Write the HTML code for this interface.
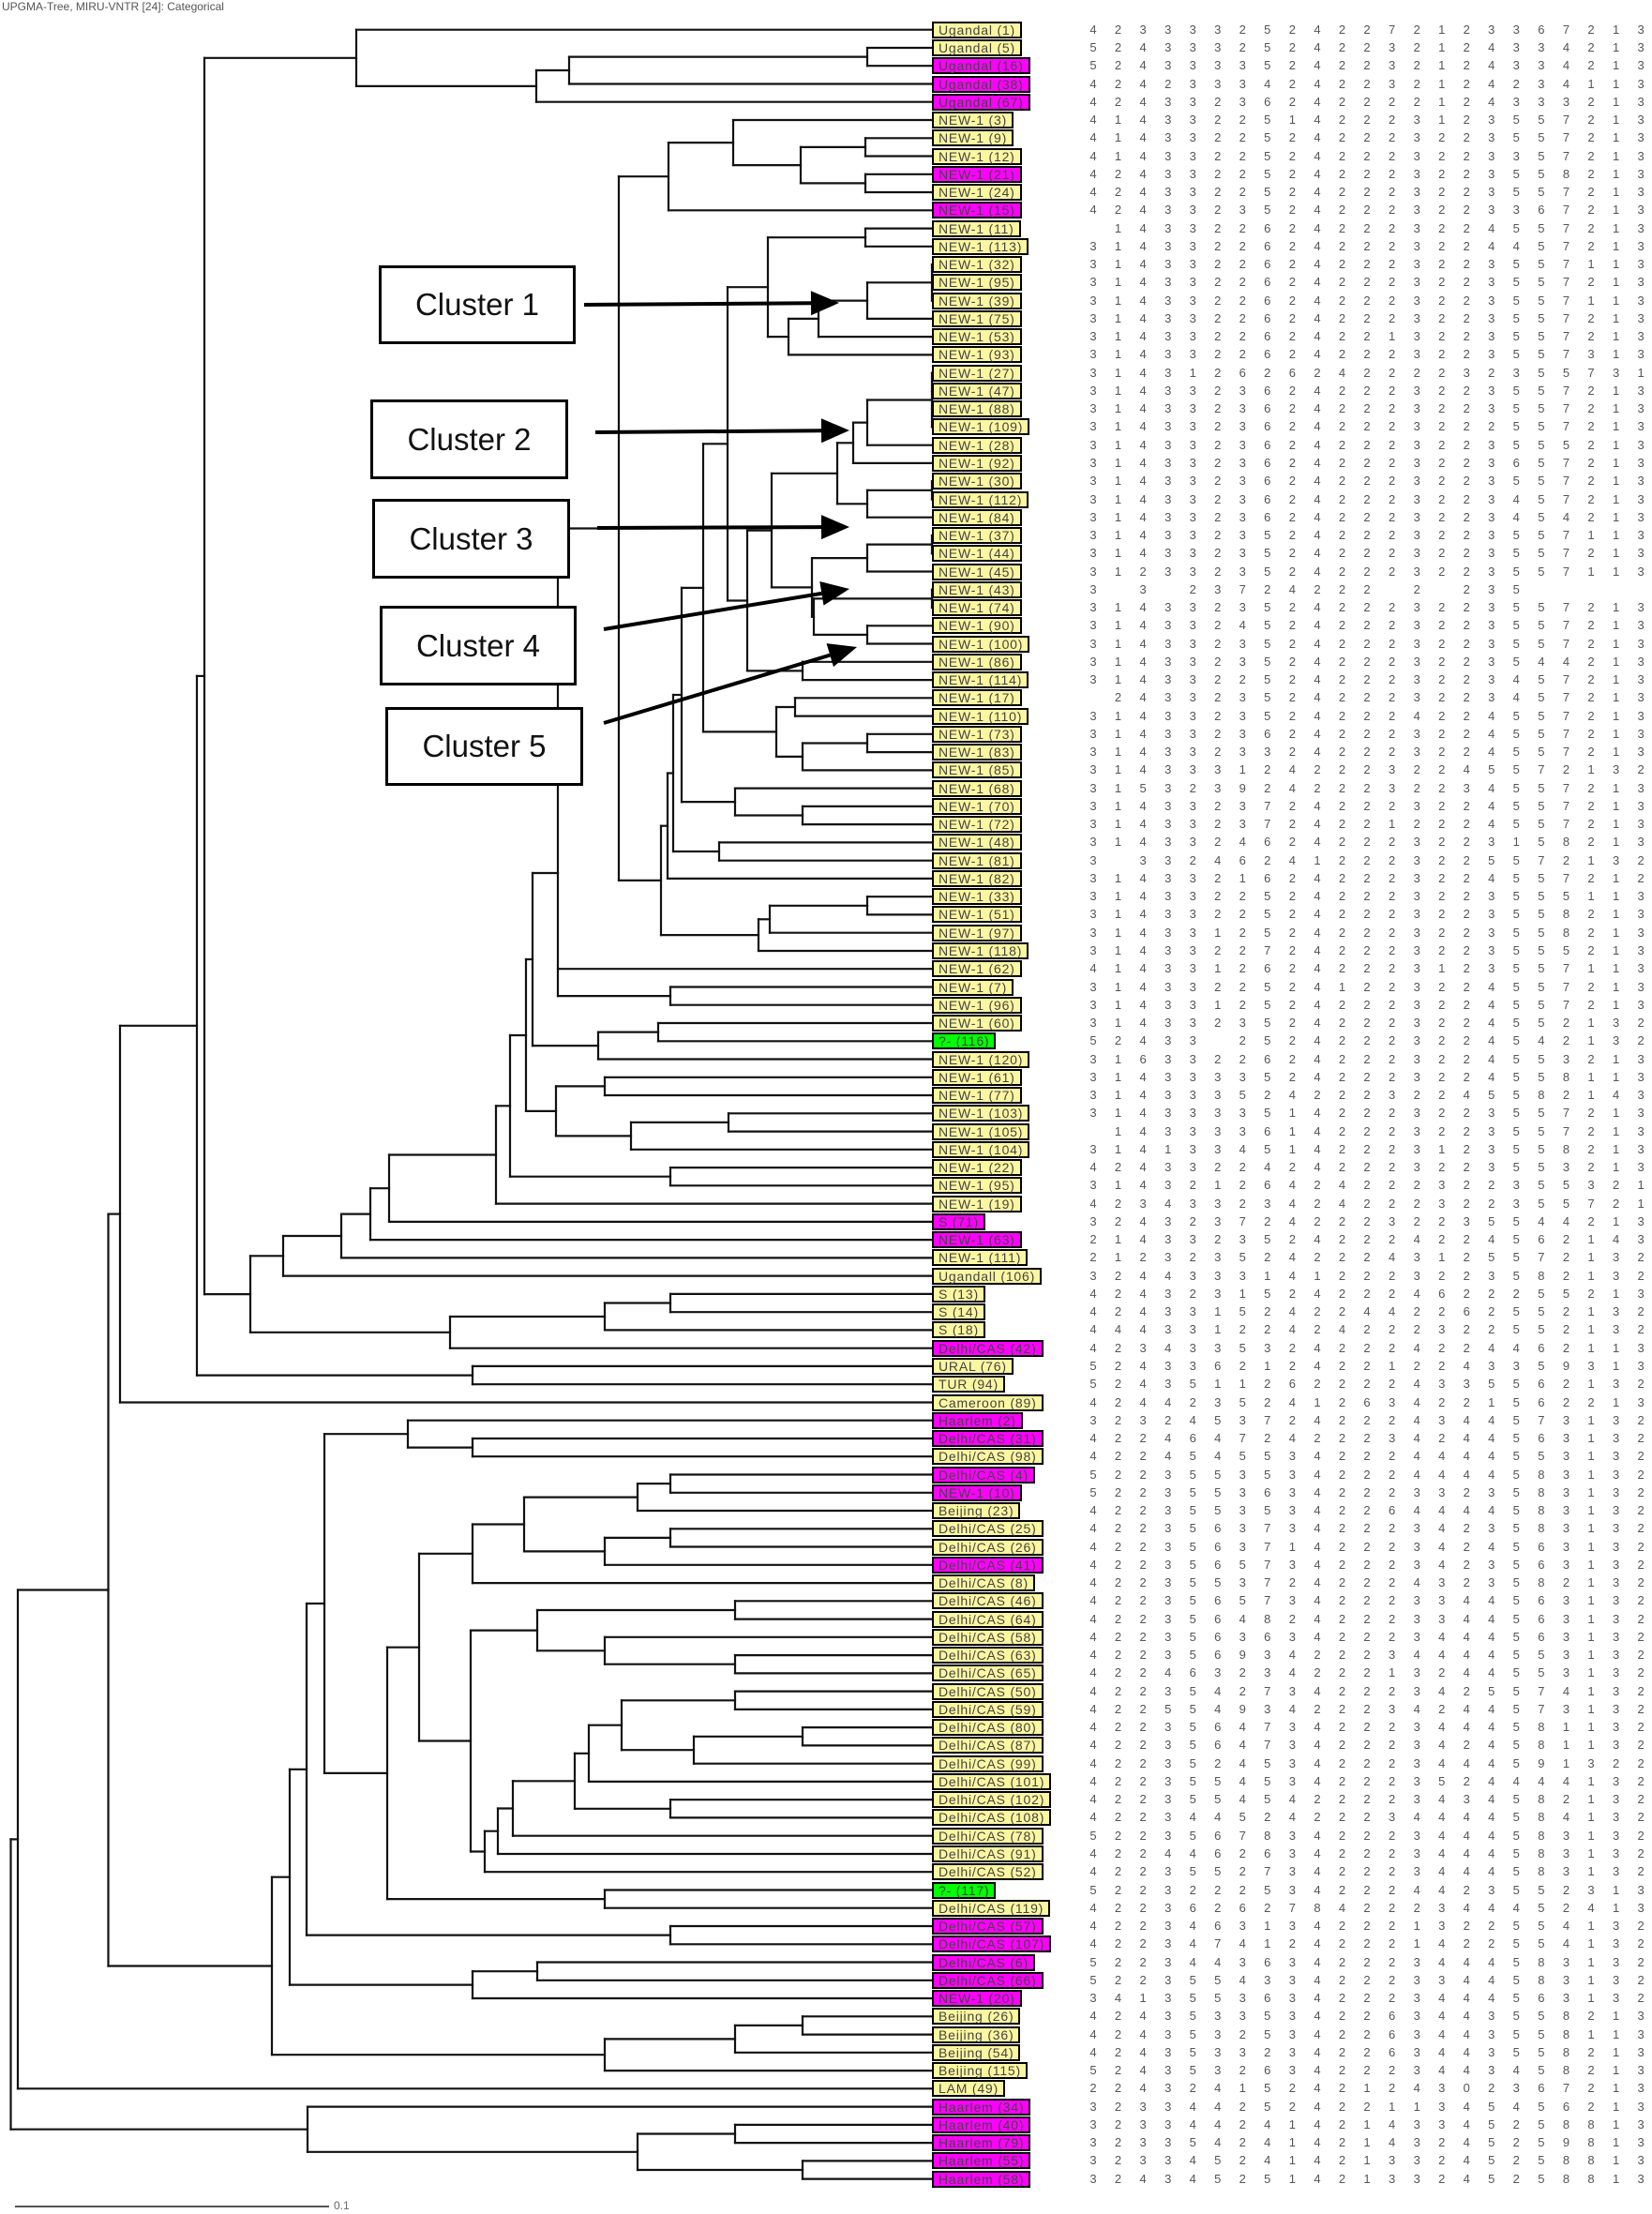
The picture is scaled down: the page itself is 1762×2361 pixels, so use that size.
<!DOCTYPE html>
<html><head><meta charset="utf-8">
<style>
html,body{margin:0;padding:0;background:#fff;}
#wrap{position:relative;width:1762px;height:2361px;overflow:hidden;background:#fff;font-family:"Liberation Sans",sans-serif;}
.lb{position:absolute;left:994px;height:14px;line-height:14px;border:2px solid #000;padding:0 5px;font-size:14px;letter-spacing:0.8px;color:#444;white-space:nowrap;box-sizing:content-box;}
.y{background:#fbf6a0;}.m{background:#ff00ff;}.g{background:#00ff00;}
.num{position:absolute;font-size:13px;color:#555;width:14px;text-align:center;line-height:14px;}
.cl{position:absolute;border:3px solid #000;background:#fff;box-sizing:border-box;font-size:33px;color:#111;display:flex;align-items:center;justify-content:center;}
</style></head><body>
<div id="wrap">
<svg id="sv" width="1762" height="2361" style="position:absolute;left:0;top:0"></svg>
<div style="position:absolute;left:2px;top:0px;font-size:12px;color:#555;">UPGMA-Tree, MIRU-VNTR [24]: Categorical</div>
<div style="position:absolute;left:356px;top:2345px;font-size:12px;color:#666;">0.1</div>
</div>
<script>
var labels=[
["Ugandal (1)","y"],["Ugandal (5)","y"],["Ugandal (16)","m"],["Ugandal (38)","m"],["Ugandal (67)","m"],
["NEW-1 (3)","y"],["NEW-1 (9)","y"],["NEW-1 (12)","y"],["NEW-1 (21)","m"],["NEW-1 (24)","y"],["NEW-1 (15)","m"],
["NEW-1 (11)","y"],["NEW-1 (113)","y"],["NEW-1 (32)","y"],["NEW-1 (95)","y"],["NEW-1 (39)","y"],["NEW-1 (75)","y"],
["NEW-1 (53)","y"],["NEW-1 (93)","y"],["NEW-1 (27)","y"],["NEW-1 (47)","y"],["NEW-1 (88)","y"],["NEW-1 (109)","y"],
["NEW-1 (28)","y"],["NEW-1 (92)","y"],["NEW-1 (30)","y"],["NEW-1 (112)","y"],["NEW-1 (84)","y"],["NEW-1 (37)","y"],
["NEW-1 (44)","y"],["NEW-1 (45)","y"],["NEW-1 (43)","y"],["NEW-1 (74)","y"],["NEW-1 (90)","y"],["NEW-1 (100)","y"],
["NEW-1 (86)","y"],["NEW-1 (114)","y"],["NEW-1 (17)","y"],["NEW-1 (110)","y"],["NEW-1 (73)","y"],["NEW-1 (83)","y"],
["NEW-1 (85)","y"],["NEW-1 (68)","y"],["NEW-1 (70)","y"],["NEW-1 (72)","y"],["NEW-1 (48)","y"],["NEW-1 (81)","y"],
["NEW-1 (82)","y"],["NEW-1 (33)","y"],["NEW-1 (51)","y"],["NEW-1 (97)","y"],["NEW-1 (118)","y"],["NEW-1 (62)","y"],
["NEW-1 (7)","y"],["NEW-1 (96)","y"],["NEW-1 (60)","y"],["?- (116)","g"],["NEW-1 (120)","y"],["NEW-1 (61)","y"],
["NEW-1 (77)","y"],["NEW-1 (103)","y"],["NEW-1 (105)","y"],["NEW-1 (104)","y"],["NEW-1 (22)","y"],["NEW-1 (95)","y"],
["NEW-1 (19)","y"],["S (71)","m"],["NEW-1 (63)","m"],["NEW-1 (111)","y"],["Ugandall (106)","y"],["S (13)","y"],
["S (14)","y"],["S (18)","y"],["Delhi/CAS (42)","m"],["URAL (76)","y"],["TUR (94)","y"],["Cameroon (89)","y"],
["Haarlem (2)","m"],["Delhi/CAS (31)","m"],["Delhi/CAS (98)","y"],["Delhi/CAS (4)","m"],["NEW-1 (10)","m"],["Beijing (23)","y"],
["Delhi/CAS (25)","y"],["Delhi/CAS (26)","y"],["Delhi/CAS (41)","m"],["Delhi/CAS (8)","y"],["Delhi/CAS (46)","y"],["Delhi/CAS (64)","y"],
["Delhi/CAS (58)","y"],["Delhi/CAS (63)","y"],["Delhi/CAS (65)","y"],["Delhi/CAS (50)","y"],["Delhi/CAS (59)","y"],["Delhi/CAS (80)","y"],
["Delhi/CAS (87)","y"],["Delhi/CAS (99)","y"],["Delhi/CAS (101)","y"],["Delhi/CAS (102)","y"],["Delhi/CAS (108)","y"],["Delhi/CAS (78)","y"],
["Delhi/CAS (91)","y"],["Delhi/CAS (52)","y"],["?- (117)","g"],["Delhi/CAS (119)","y"],["Delhi/CAS (57)","m"],["Delhi/CAS (107)","m"],
["Delhi/CAS (6)","m"],["Delhi/CAS (66)","m"],["NEW-1 (20)","m"],["Beijing (26)","y"],["Beijing (36)","y"],["Beijing (54)","y"],
["Beijing (115)","y"],["LAM (49)","y"],["Haarlem (34)","m"],["Haarlem (40)","m"],["Haarlem (79)","m"],["Haarlem (55)","m"],["Haarlem (58)","m"]];
var data=[
"4 2 3 3 3 3 2 5 2 4 2 2 7 2 1 2 3 3 6 7 2 1 3 3","5 2 4 3 3 3 2 5 2 4 2 2 3 2 1 2 4 3 3 4 2 1 3 2","5 2 4 3 3 3 3 5 2 4 2 2 3 2 1 2 4 3 3 4 2 1 3 2",
"4 2 4 2 3 3 3 4 2 4 2 2 3 2 1 2 4 2 3 4 1 1 3 2","4 2 4 3 3 2 3 6 2 4 2 2 2 2 1 2 4 3 3 3 2 1 3 2","4 1 4 3 3 2 2 5 1 4 2 2 2 3 1 2 3 5 5 7 2 1 3 2",
"4 1 4 3 3 2 2 5 2 4 2 2 2 3 2 2 3 5 5 7 2 1 3 2","4 1 4 3 3 2 2 5 2 4 2 2 2 3 2 2 3 3 5 7 2 1 3 2","4 2 4 3 3 2 2 5 2 4 2 2 2 3 2 2 3 5 5 8 2 1 3 2",
"4 2 4 3 3 2 2 5 2 4 2 2 2 3 2 2 3 5 5 7 2 1 3 2","4 2 4 3 3 2 3 5 2 4 2 2 2 3 2 2 3 3 6 7 2 1 3 2","_ 1 4 3 3 2 2 6 2 4 2 2 2 3 2 2 4 5 5 7 2 1 3 2",
"3 1 4 3 3 2 2 6 2 4 2 2 2 3 2 2 4 4 5 7 2 1 3 2","3 1 4 3 3 2 2 6 2 4 2 2 2 3 2 2 3 5 5 7 1 1 3 2","3 1 4 3 3 2 2 6 2 4 2 2 2 3 2 2 3 5 5 7 2 1 3 2",
"3 1 4 3 3 2 2 6 2 4 2 2 2 3 2 2 3 5 5 7 1 1 3 2","3 1 4 3 3 2 2 6 2 4 2 2 2 3 2 2 3 5 5 7 2 1 3 2","3 1 4 3 3 2 2 6 2 4 2 2 1 3 2 2 3 5 5 7 2 1 3 2",
"3 1 4 3 3 2 2 6 2 4 2 2 2 3 2 2 3 5 5 7 3 1 3 2","3 1 4 3 1 2 6 2 6 2 4 2 2 2 2 3 2 3 5 5 7 3 1 3","3 1 4 3 3 2 3 6 2 4 2 2 2 3 2 2 3 5 5 7 2 1 3 2",
"3 1 4 3 3 2 3 6 2 4 2 2 2 3 2 2 3 5 5 7 2 1 3 2","3 1 4 3 3 2 3 6 2 4 2 2 2 3 2 2 2 5 5 7 2 1 3 2","3 1 4 3 3 2 3 6 2 4 2 2 2 3 2 2 3 5 5 5 2 1 3 2",
"3 1 4 3 3 2 3 6 2 4 2 2 2 3 2 2 3 6 5 7 2 1 3 2","3 1 4 3 3 2 3 6 2 4 2 2 2 3 2 2 3 5 5 7 2 1 3 2","3 1 4 3 3 2 3 6 2 4 2 2 2 3 2 2 3 4 5 7 2 1 3 2",
"3 1 4 3 3 2 3 6 2 4 2 2 2 3 2 2 3 4 5 4 2 1 3 2","3 1 4 3 3 2 3 5 2 4 2 2 2 3 2 2 3 5 5 7 1 1 3 2","3 1 4 3 3 2 3 5 2 4 2 2 2 3 2 2 3 5 5 7 2 1 3 2",
"3 1 2 3 3 2 3 5 2 4 2 2 2 3 2 2 3 5 5 7 1 1 3 2","3 _ 3 _ 2 3 7 2 4 2 2 2 _ 2 _ 2 3 5 _ _ _ _ _ _","3 1 4 3 3 2 3 5 2 4 2 2 2 3 2 2 3 5 5 7 2 1 3 2",
"3 1 4 3 3 2 4 5 2 4 2 2 2 3 2 2 3 5 5 7 2 1 3 2","3 1 4 3 3 2 3 5 2 4 2 2 2 3 2 2 3 5 5 7 2 1 3 2","3 1 4 3 3 2 3 5 2 4 2 2 2 3 2 2 3 5 4 4 2 1 3 2",
"3 1 4 3 3 2 2 5 2 4 2 2 2 3 2 2 3 4 5 7 2 1 3 2","_ 2 4 3 3 2 3 5 2 4 2 2 2 3 2 2 3 4 5 7 2 1 3 2","3 1 4 3 3 2 3 5 2 4 2 2 2 4 2 2 4 5 5 7 2 1 3 2",
"3 1 4 3 3 2 3 6 2 4 2 2 2 3 2 2 4 5 5 7 2 1 3 2","3 1 4 3 3 2 3 3 2 4 2 2 2 3 2 2 4 5 5 7 2 1 3 2","3 1 4 3 3 3 1 2 4 2 2 2 3 2 2 4 5 5 7 2 1 3 2 2",
"3 1 5 3 2 3 9 2 4 2 2 2 3 2 2 3 4 5 5 7 2 1 3 2","3 1 4 3 3 2 3 7 2 4 2 2 2 3 2 2 4 5 5 7 2 1 3 2","3 1 4 3 3 2 3 7 2 4 2 2 1 2 2 2 4 5 5 7 2 1 3 2",
"3 1 4 3 3 2 4 6 2 4 2 2 2 3 2 2 3 1 5 8 2 1 3 2","3 _ 3 3 2 4 6 2 4 1 2 2 2 3 2 2 5 5 7 2 1 3 2 2","3 1 4 3 3 2 1 6 2 4 2 2 2 3 2 2 4 5 5 7 2 1 2 2",
"3 1 4 3 3 2 2 5 2 4 2 2 2 3 2 2 3 5 5 5 1 1 3 2","3 1 4 3 3 2 2 5 2 4 2 2 2 3 2 2 3 5 5 8 2 1 3 2","3 1 4 3 3 1 2 5 2 4 2 2 2 3 2 2 3 5 5 8 2 1 3 2",
"3 1 4 3 3 2 2 7 2 4 2 2 2 3 2 2 3 5 5 5 2 1 3 2","4 1 4 3 3 1 2 6 2 4 2 2 2 3 1 2 3 5 5 7 1 1 3 2","3 1 4 3 3 2 2 5 2 4 1 2 2 3 2 2 4 5 5 7 2 1 3 2",
"3 1 4 3 3 1 2 5 2 4 2 2 2 3 2 2 4 5 5 7 2 1 3 2","3 1 4 3 3 2 3 5 2 4 2 2 2 3 2 2 4 5 5 2 1 3 2 2","5 2 4 3 3 _ 2 5 2 4 2 2 2 3 2 2 4 5 4 2 1 3 2 2",
"3 1 6 3 3 2 2 6 2 4 2 2 2 3 2 2 4 5 5 3 2 1 3 2","3 1 4 3 3 3 3 5 2 4 2 2 2 3 2 2 4 5 5 8 1 1 3 2","3 1 4 3 3 3 5 2 4 2 2 2 3 2 2 4 5 5 8 2 1 4 3 2",
"3 1 4 3 3 3 3 5 1 4 2 2 2 3 2 2 3 5 5 7 2 1 3 2","_ 1 4 3 3 3 3 6 1 4 2 2 2 3 2 2 3 5 5 7 2 1 3 2","3 1 4 1 3 3 4 5 1 4 2 2 2 3 1 2 3 5 5 8 2 1 3 2",
"4 2 4 3 3 2 2 4 2 4 2 2 2 3 2 2 3 5 5 3 2 1 3 2","3 1 4 3 2 1 2 6 4 2 4 2 2 2 3 2 2 3 5 5 3 2 1 3","4 2 3 4 3 3 2 3 4 2 4 2 2 2 3 2 2 3 5 5 7 2 1 3",
"3 2 4 3 2 3 7 2 4 2 2 2 3 2 2 3 5 5 4 4 2 1 3 2","2 1 4 3 3 2 3 5 2 4 2 2 2 4 2 2 4 5 6 2 1 4 3 2","2 1 2 3 2 3 5 2 4 2 2 2 4 3 1 2 5 5 7 2 1 3 2 2",
"3 2 4 4 3 3 3 1 4 1 2 2 2 3 2 2 3 5 8 2 1 3 2 2","4 2 4 3 2 3 1 5 2 4 2 2 2 4 6 2 2 2 5 5 2 1 3 2","4 2 4 3 3 1 5 2 4 2 2 4 4 2 2 6 2 5 5 2 1 3 2 2",
"4 4 4 3 3 1 2 2 4 2 4 2 2 2 3 2 2 5 5 2 1 3 2 2","4 2 3 4 3 3 5 3 2 4 2 2 2 4 2 2 4 4 6 2 1 1 3 2","5 2 4 3 3 6 2 1 2 4 2 2 1 2 2 4 3 3 5 9 3 1 3 2",
"5 2 4 3 5 1 1 2 6 2 2 2 2 4 3 3 5 5 6 2 1 3 2 2","4 2 4 4 2 3 5 2 4 1 2 6 3 4 2 2 1 5 6 2 2 1 3 2","3 2 3 2 4 5 3 7 2 4 2 2 2 4 3 4 4 5 7 3 1 3 2 2",
"4 2 2 4 6 4 7 2 4 2 2 2 3 4 2 4 4 5 6 3 1 3 2 2","4 2 2 4 5 4 5 5 3 4 2 2 2 4 4 4 4 5 5 3 1 3 2 2","5 2 2 3 5 5 3 5 3 4 2 2 2 4 4 4 4 5 8 3 1 3 2 2",
"5 2 2 3 5 5 3 6 3 4 2 2 2 3 3 2 3 5 8 3 1 3 2 2","4 2 2 3 5 5 3 5 3 4 2 2 6 4 4 4 4 5 8 3 1 3 2 2","4 2 2 3 5 6 3 7 3 4 2 2 2 3 4 2 3 5 8 3 1 3 2 2",
"4 2 2 3 5 6 3 7 1 4 2 2 2 3 4 2 4 5 6 3 1 3 2 2","4 2 2 3 5 6 5 7 3 4 2 2 2 3 4 2 3 5 6 3 1 3 2 2","4 2 2 3 5 5 3 7 2 4 2 2 2 4 3 2 3 5 8 2 1 3 2 2",
"4 2 2 3 5 6 5 7 3 4 2 2 2 3 3 4 4 5 6 3 1 3 2 2","4 2 2 3 5 6 4 8 2 4 2 2 2 3 3 4 4 5 6 3 1 3 2 2","4 2 2 3 5 6 3 6 3 4 2 2 2 3 4 4 4 5 6 3 1 3 2 2",
"4 2 2 3 5 6 9 3 4 2 2 2 3 4 4 4 4 5 5 3 1 3 2 2","4 2 2 4 6 3 2 3 4 2 2 2 1 3 2 4 4 5 5 3 1 3 2 2","4 2 2 3 5 4 2 7 3 4 2 2 2 3 4 2 5 5 7 4 1 3 2 2",
"4 2 2 5 5 4 9 3 4 2 2 2 3 4 2 4 4 5 7 3 1 3 2 2","4 2 2 3 5 6 4 7 3 4 2 2 2 3 4 4 4 5 8 1 1 3 2 2","4 2 2 3 5 6 4 7 3 4 2 2 2 3 4 2 4 5 8 1 1 3 2 2",
"4 2 2 3 5 2 4 5 3 4 2 2 2 3 4 4 4 5 9 1 3 2 2 2","4 2 2 3 5 5 4 5 3 4 2 2 2 3 5 2 4 4 4 4 1 3 2 2","4 2 2 3 5 5 4 5 4 2 2 2 2 3 4 3 4 5 8 2 1 3 2 2",
"4 2 2 3 4 4 5 2 4 2 2 2 3 4 4 4 4 5 8 4 1 3 2 2","5 2 2 3 5 6 7 8 3 4 2 2 2 3 4 4 4 5 8 3 1 3 2 2","4 2 2 4 4 6 2 6 3 4 2 2 2 3 4 4 4 5 8 3 1 3 2 2",
"4 2 2 3 5 5 2 7 3 4 2 2 2 3 4 4 4 5 8 3 1 3 2 2","5 2 2 3 2 2 2 5 3 4 2 2 2 4 4 2 3 5 5 2 3 1 3 2","4 2 2 3 6 2 6 2 7 8 4 2 2 2 3 4 4 4 5 2 4 1 3 2",
"4 2 2 3 4 6 3 1 3 4 2 2 2 1 3 2 2 5 5 4 1 3 2 2","4 2 2 3 4 7 4 1 2 4 2 2 2 1 4 2 2 5 5 4 1 3 2 2","5 2 2 3 4 4 3 6 3 4 2 2 2 3 4 4 4 5 8 3 1 3 2 2",
"5 2 2 3 5 5 4 3 3 4 2 2 2 3 3 4 4 5 8 3 1 3 2 2","3 4 1 3 5 5 3 6 3 4 2 2 2 3 4 4 4 5 6 3 1 3 2 2","4 2 4 3 5 3 3 5 3 4 2 2 6 3 4 4 3 5 5 8 2 1 3 2",
"4 2 4 3 5 3 2 5 3 4 2 2 6 3 4 4 3 5 5 8 1 1 3 2","4 2 4 3 5 3 3 2 3 4 2 2 6 3 4 4 3 5 5 8 2 1 3 2","5 2 4 3 5 3 2 6 3 4 2 2 2 3 4 4 3 4 5 8 2 1 3 2",
"2 2 4 3 2 4 1 5 2 4 2 1 2 4 3 0 2 3 6 7 2 1 3 2","3 2 3 3 4 4 2 5 2 4 2 2 1 1 3 4 5 4 5 6 2 1 3 2","3 2 3 3 4 4 2 4 1 4 2 1 4 3 3 4 5 2 5 8 8 1 3 2",
"3 2 3 3 5 4 2 4 1 4 2 1 4 3 2 4 5 2 5 9 8 1 3 2","3 2 3 3 4 5 2 4 1 4 2 1 3 3 2 4 5 2 5 8 8 1 3 2","3 2 4 3 4 5 2 5 1 4 2 1 3 3 2 4 5 2 5 8 8 1 3 2"];
function RY(i){return 31.7+(i-1)*19.26;}
var wrap=document.getElementById('wrap');
var h='';
for(var i=0;i<labels.length;i++){
  var y=RY(i+1);
  h+='<div class="lb '+labels[i][1]+'" style="top:'+(y-9).toFixed(1)+'px">'+labels[i][0]+'</div>';
  var v=data[i].split(' ');
  for(var k=0;k<v.length&&k<24;k++){ if(v[k]=='_')continue;
    h+='<div class="num" style="left:'+(1159+k*26.55).toFixed(1)+'px;top:'+(y-7).toFixed(1)+'px">'+v[k]+'</div>';}
}
wrap.insertAdjacentHTML('beforeend',h);
function N(x,c,yo){return {x:x,c:c,yo:yo};}
function Y(n){ if(typeof n=='number')return RY(n); if(n.yo)return n.yo; return (Y(n.c[0])+Y(n.c[n.c.length-1]))/2;}
function X(n){return typeof n=='number'?994:n.x;}
var L=[];
function draw(n){ if(typeof n=='number')return;
  var y0=Y(n.c[0]),y1=Y(n.c[n.c.length-1]);
  L.push([n.x,y0,n.x,y1]);
  for(var j=0;j<n.c.length;j++){var c=n.c[j];L.push([n.x,Y(c),X(c),Y(c)]);draw(c);}
}
var U=N(380,[1,N(572,[N(607,[N(925,[2,3]),4]),5])]);
var T713=N(713,[N(782,[6,N(854,[N(923,[7,8]),N(923,[9,10])])]),11]);
var n819=N(819,[N(923,[12,13]),N(841,[N(873,[N(925,[N(994,[14,15,16]),17]),18]),19])]);
var n893=N(893,[N(910,[N(925,[N(994,[20,21,22,23]),24]),25]),N(925,[N(994,[26,27]),28])]);
var n866=N(866,[N(925,[N(994,[29,30]),31]),N(868,[N(994,[32,33]),N(925,[34,35])])]);
var n823=N(823,[n893,n866]);
var n797=N(797,[n823,N(856,[36,37])]);
var n776=N(776,[n819,n797]);
var n828=N(828,[N(848,[38,39]),N(856,[N(925,[40,41]),42])]);
var n750=N(750,[n776,n828]);
var n727=N(727,[n750,N(784,[43,N(856,[44,45])])]);
var n718=N(718,[n727,N(767,[46,47])]);
var n712=N(712,[n718,48]);
var n809=N(809,[N(821,[N(925,[49,50]),51]),52]);
var n705=N(705,[n712,n809]);
var n660=N(660,[T713,n705]);
var n595=N(595,[n660,53,N(715,[54,55])],931);
var n638=N(638,[N(702,[56,57]),58]);
var n568=N(568,[n595,n638]);
var n593b=N(593,[N(645,[59,60]),N(673,[N(777,[61,62]),63])]);
var n561=N(561,[n568,n593b]);
var n544=N(544,[n561,N(715,[64,65])]);
var n529=N(529,[n544,66]);
var n415=N(415,[n529,67]),n395=N(395,[n415,68]),n364=N(364,[n395,69]),n302=N(302,[n364,70]);
var n480=N(480,[N(645,[N(715,[71,72]),73]),74]);
var n267=N(267,[n302,n480]);
var n218=N(218,[U,n267]);
var n210=N(210,[n218,N(504,[75,76])]);
var n128=N(128,[n210,77]);
var a=N(435,[78,N(504,[79,80])]);
var c2=N(680,[N(715,[81,82]),83]),d2=N(645,[N(715,[84,85]),86]),e=N(559,[c2,d2]),f=N(504,[e,87]);
var g4=N(573,[N(784,[88,89]),N(645,[90,N(784,[91,92])])]);
var h1=N(784,[93,94]),h3=N(740,[N(856,[95,96]),97]),h4=N(663,[h1,h3]),h5=N(628,[h4,98]),h7=N(613,[h5,N(715,[99,100])]),
h8=N(547,[h7,101]),h9=N(531,[h8,102]),h10=N(517,[h9,103]),h11=N(502,[g4,h10]);
var i1=N(447,[f,h11]),i3=N(413,[i1,N(645,[104,105])]),i4=N(346,[a,i3]),j2=N(327,[i4,N(715,[106,107])]),
k3=N(309,[j2,N(504,[N(573,[108,109]),110])]),l4=N(290,[k3,N(645,[N(784,[N(856,[111,112]),113]),114])]);
var m=N(115.5,[n128,l4]),o=N(19,[m,115]);
var H=N(328,[116,N(680,[N(784,[117,118]),N(856,[119,120])])]);
var root=N(11.5,[o,H]);
draw(root);
var s='';
for(var q=0;q<L.length;q++){var l=L[q];s+='<line x1="'+l[0]+'" y1="'+l[1].toFixed(1)+'" x2="'+l[2]+'" y2="'+l[3].toFixed(1)+'" stroke="#111" stroke-width="2.2" stroke-linecap="square"/>';}
s+='<line x1="16" y1="2353" x2="351" y2="2353" stroke="#555" stroke-width="2"/>';
function arrow(x1,y1,x2,y2){
  var dx=x2-x1,dy=y2-y1,d=Math.sqrt(dx*dx+dy*dy),ux=dx/d,uy=dy/d,hl=30,hw=13;
  var bx=x2-ux*hl,by=y2-uy*hl;
  var r='<line x1="'+x1+'" y1="'+y1+'" x2="'+bx+'" y2="'+by+'" stroke="#000" stroke-width="4"/>';
  r+='<polygon points="'+x2+','+y2+' '+(bx-uy*hw)+','+(by+ux*hw)+' '+(bx+uy*hw)+','+(by-ux*hw)+'" fill="#000"/>';
  return r;}
s+=arrow(623,325,895,323);
s+=arrow(635,461,906,459);
s+=arrow(637,563,906,562);
s+=arrow(644,671,906,628);
s+=arrow(644,771,914,690);
document.getElementById('sv').innerHTML=s;
var cl=[[404,283,614,367,"Cluster 1"],[395,426,606,511,"Cluster 2"],[397,532,608,617,"Cluster 3"],[405,646,615,731,"Cluster 4"],[411,754,622,838,"Cluster 5"]];
var hh='';
for(var z=0;z<cl.length;z++){var c=cl[z];
 hh+='<div class="cl" style="left:'+c[0]+'px;top:'+c[1]+'px;width:'+(c[2]-c[0])+'px;height:'+(c[3]-c[1])+'px">'+c[4]+'</div>';}
wrap.insertAdjacentHTML('beforeend',hh);
</script>
</body></html>
